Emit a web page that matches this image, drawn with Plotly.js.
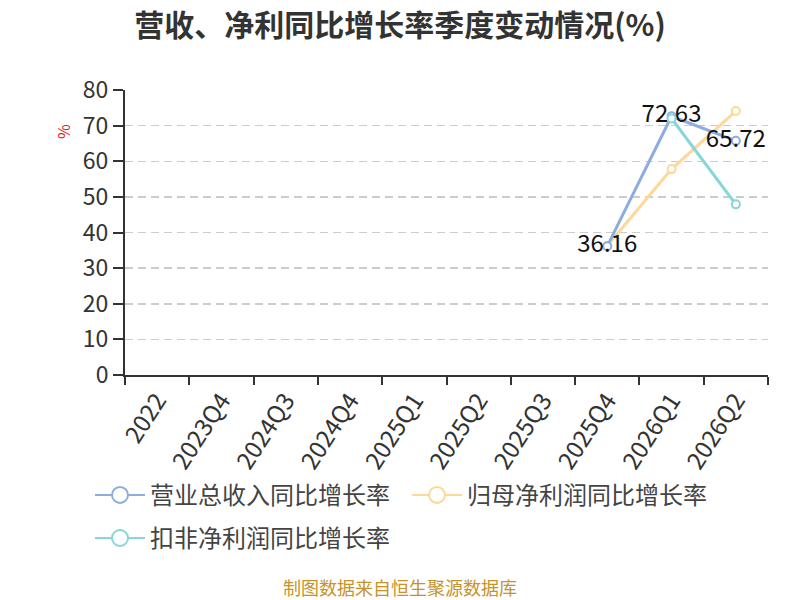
<!DOCTYPE html>
<html>
<head>
<meta charset="utf-8">
<script src="https://cdn.plot.ly/plotly-3.0.1.min.js"></script>
<style>html,body{margin:0;padding:0;background:#fff;}#chart{width:800px;height:600px;}</style>
</head>
<body>
<div id="chart"></div>
<script>
var categories = ["2022","2023Q4","2024Q3","2024Q4","2025Q1","2025Q2","2025Q3","2025Q4","2026Q1","2026Q2"];
var revenueGrowth = [null,null,null,null,null,null,null,36.16,72.63,65.72];
var netProfitGrowth = [null,null,null,null,null,null,null,36.3,57.8,74.1];
var deductedProfitGrowth = [null,null,null,null,null,null,null,null,72.0,47.9];
var seriesNames = ["营业总收入同比增长率","归母净利润同比增长率","扣非净利润同比增长率"];
var seriesColors = ["#8eaddf","#fdd898","#86d6da"];
var yTicks = [0,10,20,30,40,50,60,70,80];

var FONT = '"Noto Sans CJK SC", "Noto Sans", sans-serif';
var series = [revenueGrowth, netProfitGrowth, deductedProfitGrowth];

var traces = [];
[1,0,2].forEach(function(i){
  var t = {
    x: categories, y: series[i], type: 'scatter',
    mode: i === 0 ? 'lines+markers+text' : 'lines+markers',
    name: seriesNames[i], showlegend: false,
    line: {color: seriesColors[i], width: 3},
    marker: {symbol: 'circle', size: 8, color: '#fff', line: {color: seriesColors[i], width: 2}},
    hoverinfo: 'x+y', cliponaxis: false
  };
  if (i === 0) {
    t.text = series[i].map(function(v){ return v === null ? '' : v.toFixed(2); });
    t.textposition = 'middle center';
    t.textfont = {family: FONT, size: 24, color: '#111'};
  }
  traces.push(t);
});
seriesNames.forEach(function(n, i){
  traces.push({
    x: [null], y: [null], type: 'scatter', mode: 'lines+markers', name: n,
    legend: i === 2 ? 'legend2' : 'legend',
    line: {color: seriesColors[i], width: 2},
    marker: {symbol: 'circle', size: 16, color: '#fff', line: {color: seriesColors[i], width: 2}}
  });
});

var legendCommon = {
  orientation: 'h', xref: 'paper', yref: 'paper', xanchor: 'left', yanchor: 'middle',
  font: {family: FONT, size: 24, color: '#444'}, itemwidth: 50, entrywidth: 252, entrywidthmode: 'pixels',
  bgcolor: 'rgba(0,0,0,0)', itemclick: false, itemdoubleclick: false
};

var layout = {
  width: 800, height: 600,
  margin: {l: 125, r: 32, t: 90, b: 225},
  paper_bgcolor: '#fff', plot_bgcolor: '#fff',
  title: {text: '营收、净利同比增长率季度变动情况(%)', x: 0.5, xanchor: 'center', y: 0.958, yanchor: 'middle',
          font: {family: FONT, size: 30, color: '#333', weight: 'bold'}},
  xaxis: {
    type: 'category', categoryorder: 'array', categoryarray: categories,
    range: [-0.5, 9.5], tickson: 'boundaries', ticks: 'outside', ticklen: 8, tickwidth: 2, tickcolor: '#333',
    showline: true, linecolor: '#333', linewidth: 2, showgrid: false, zeroline: false,
    tickangle: -57, tickfont: {family: FONT, size: 24, color: '#333'}, fixedrange: true
  },
  yaxis: {
    range: [0, 80], tickvals: yTicks, ticktext: yTicks.map(String),
    ticks: 'outside', ticklen: 10, tickwidth: 2, tickcolor: '#333',
    showline: true, linecolor: '#333', linewidth: 2,
    showgrid: true, gridcolor: '#cccccc', griddash: '8px,5px', gridwidth: 1.5, zeroline: false,
    tickfont: {family: FONT, size: 23, color: '#333'}, fixedrange: true
  },
  legend: Object.assign({x: (90 - 125) / 643, y: (375 - 495) / 284.3}, legendCommon),
  legend2: Object.assign({x: (90 - 125) / 643, y: (375 - 538) / 284.3}, legendCommon),
  annotations: [
    {text: '%', xref: 'paper', yref: 'paper', x: (49 - 125) / 643, y: (375 - 123) / 284.3,
     showarrow: false, textangle: -90, font: {family: FONT, size: 16, color: '#e02020'}},
    {text: '制图数据来自恒生聚源数据库', xref: 'paper', yref: 'paper', x: (400 - 125) / 643, y: (375 - 586) / 284.3,
     xanchor: 'center', yanchor: 'middle', showarrow: false, font: {family: FONT, size: 18, color: '#c8922a'}}
  ],
  showlegend: true
};

Plotly.newPlot('chart', traces, layout, {displayModeBar: false, staticPlot: true});
</script>
</body>
</html>
